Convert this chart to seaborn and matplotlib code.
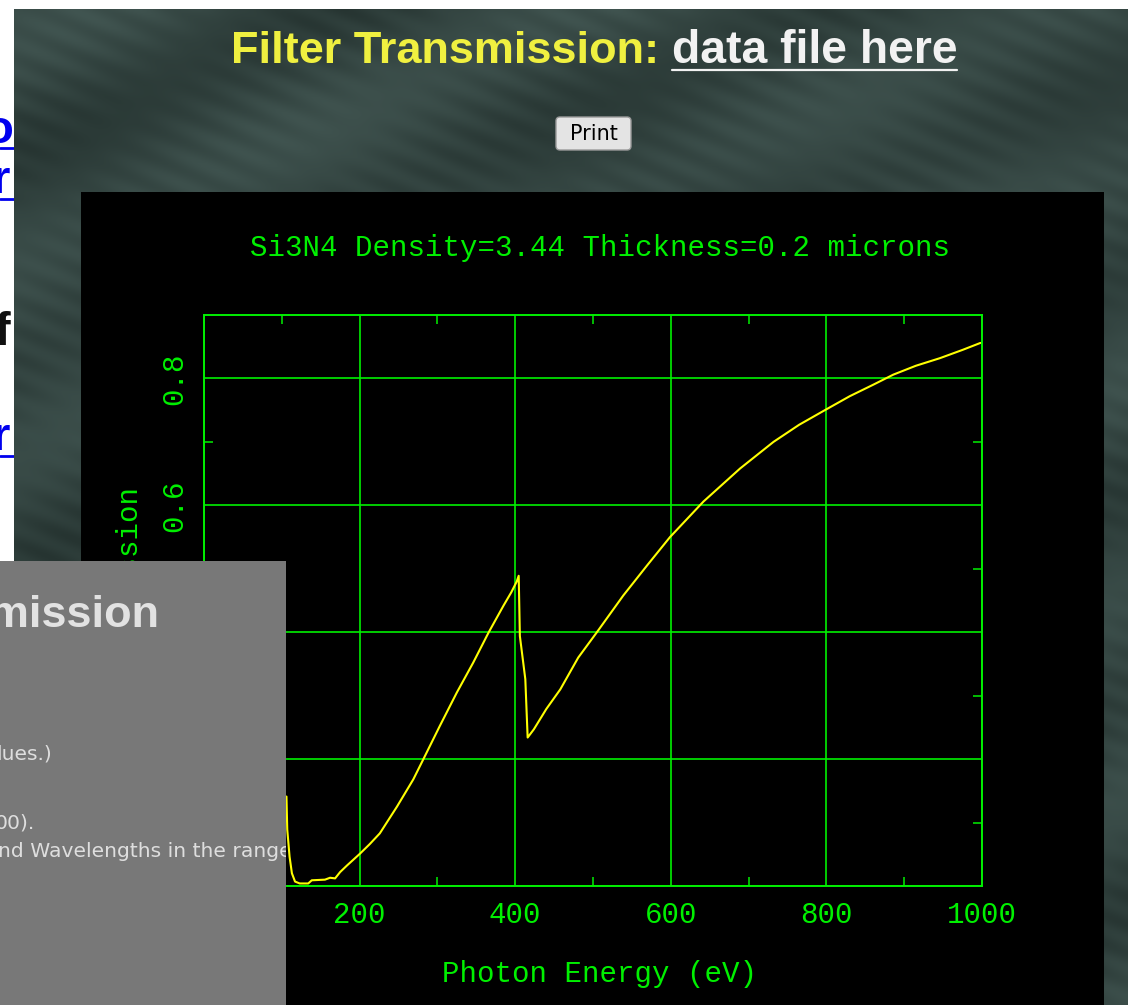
import numpy as np
import pandas as pd
import matplotlib
matplotlib.use("Agg")
import matplotlib.pyplot as plt
import seaborn as sns
from matplotlib.patches import Rectangle, FancyBboxPatch
from matplotlib.ticker import FixedLocator

# ---------------- data ----------------
energy_ev = [106, 107, 110, 113, 117, 123, 134, 138.5, 155.5, 162, 168.5, 175,
             183.5, 200.5, 213, 226, 248, 269, 282, 303, 325, 346, 366, 385,
             395, 402, 404.5, 406, 413, 416, 424, 440, 458, 481, 505, 539, 570,
             599, 642, 689, 732, 765, 798, 830, 860, 886, 915, 946, 975, 998]
transmission = [0.141, 0.089, 0.046, 0.020, 0.007, 0.004, 0.004, 0.009, 0.010,
                0.013, 0.012, 0.022, 0.032, 0.051, 0.066, 0.083, 0.125, 0.168,
                0.200, 0.252, 0.305, 0.352, 0.400, 0.442, 0.463, 0.480, 0.489,
                0.394, 0.326, 0.234, 0.247, 0.279, 0.310, 0.360, 0.400, 0.458,
                0.506, 0.550, 0.606, 0.658, 0.700, 0.727, 0.750, 0.772, 0.790,
                0.806, 0.820, 0.832, 0.845, 0.856]
x_ticks = [0, 200, 400, 600, 800, 1000]
x_tick_labels = ["0", "200", "400", "600", "800", "1000"]
x_minor = [100, 300, 500, 700, 900]
y_ticks = [0.0, 0.2, 0.4, 0.6, 0.8]
y_tick_labels = ["0.0", "0.2", "0.4", "0.6", "0.8"]
y_minor = [0.1, 0.3, 0.5, 0.7]
plot_title = "Si3N4 Density=3.44 Thickness=0.2 microns"
x_label = "Photon Energy (eV)"
y_label = "Transmission"
page_title_a = "Filter Transmission:"
page_title_b = "data file here"
button_text = "Print"
overlay_heading = "Filter Transmission"
overlay_lines = ["lues.)", "00).", "nd Wavelengths in the range of"]

# ---------------- figure ----------------
W, H = 1128, 1005
sns.set_theme(style="dark")
plt.rcParams["font.family"] = ["Liberation Mono", "DejaVu Sans"]

GREEN = "#00f000"
YELLOW = "#ffff00"

fig = plt.figure(figsize=(W / 100, H / 100), dpi=100)
fig.patch.set_facecolor("white")

# page layer in pixel coordinates
page = fig.add_axes([0, 0, 1, 1])
page.set_xlim(0, W)
page.set_ylim(H, 0)
page.axis("off")
page.set_zorder(0)

# left link fragments of the underlying page (behind the dark panel)
frag_font = dict(family="Liberation Sans", weight="bold", fontsize=34)
page.text(-16, 143, "o", color="#0000ee", va="baseline", zorder=1, **frag_font)
page.plot([0, 14], [148, 148], color="#0000ee", lw=2, zorder=1)
page.text(-8, 193, "r", color="#0000ee", va="baseline", zorder=1, **frag_font)
page.plot([0, 14], [199, 199], color="#0000ee", lw=2, zorder=1)
page.text(-6, 345, "f", color="#111111", va="baseline", zorder=1, **frag_font)
page.text(-8, 450, "r", color="#0000ee", va="baseline", zorder=1, **frag_font)
page.plot([0, 14], [456, 456], color="#0000ee", lw=2, zorder=1)

# dark textured panel (decorative background, smooth streak pattern)
gx, gy = np.meshgrid(np.arange(14, W, 3.0), np.arange(9, H, 3.0))
tex = (0.45 * np.sin(0.030 * (gx * 0.45 + gy)) +
       0.30 * np.sin(0.011 * gx + 0.9) * np.cos(0.017 * gy + 0.4) +
       0.25 * np.sin(0.22 * (gy - 0.42 * gx)) * np.sin(0.013 * (gx + gy)))
tex = (tex - tex.min()) / (tex.max() - tex.min())
c0 = np.array([38, 52, 49]) / 255.0
c1 = np.array([66, 86, 82]) / 255.0
rgb = c0[None, None, :] + tex[..., None] * (c1 - c0)[None, None, :]
page.imshow(rgb, extent=(14, W, H, 9), interpolation="bilinear", zorder=2, aspect="auto")
page.set_xlim(0, W)
page.set_ylim(H, 0)

# page heading
title_font = dict(family="Liberation Sans", weight="bold", fontsize=32.5)
page.text(231, 63, page_title_a, color="#f0f040", ha="left", va="baseline", zorder=3, **title_font)
page.text(672, 63, page_title_b, color="#f2f2f2", ha="left", va="baseline", zorder=3,
          family="Liberation Sans", weight="bold", fontsize=33.3)
page.plot([672, 957], [69.5, 69.5], color="#f2f2f2", lw=1.6, zorder=3)

# print button
page.add_patch(FancyBboxPatch((556, 117), 75, 33, boxstyle="round,pad=0,rounding_size=4",
                              facecolor="#e4e4e4", edgecolor="#9a9a9a", lw=1, zorder=3))
page.text(593.5, 134, button_text, color="black", ha="center", va="center",
          family="DejaVu Sans", fontsize=15, zorder=4)

# black plot panel
page.add_patch(Rectangle((81, 192), 1104 - 81, H - 192, facecolor="black", edgecolor="none", zorder=3))

# ---------------- the chart ----------------
ax = fig.add_axes([204 / W, (H - 886) / H, 778 / W, 571 / H])
ax.set_zorder(5)
ax.set_facecolor("black")

df = pd.DataFrame({"energy": energy_ev, "transmission": transmission})
sns.lineplot(data=df, x="energy", y="transmission", ax=ax, color=YELLOW,
             linewidth=1.5, estimator=None, sort=False, legend=False)

ax.set_xlim(0, 1000)
ax.set_ylim(0, 0.9)
ax.set_xticks(x_ticks)
ax.set_xticklabels(x_tick_labels)
ax.set_yticks(y_ticks)
ax.set_yticklabels(y_tick_labels, rotation=90, va="center", ha="right")
ax.xaxis.set_minor_locator(FixedLocator(x_minor))
ax.yaxis.set_minor_locator(FixedLocator(y_minor))

ax.set_axisbelow(True)
ax.grid(True, which="major", color=GREEN, lw=1.2)
ax.grid(False, which="minor")
for s in ax.spines.values():
    s.set_visible(True)
    s.set_color(GREEN)
    s.set_linewidth(1.4)

FS = 21
ax.tick_params(which="major", length=0, pad=11, labelsize=FS, labelcolor=GREEN)
ax.tick_params(which="minor", direction="in", length=6.5, width=1.1, color=GREEN,
               bottom=True, top=True, left=True, right=True)

ax.set_xlabel(x_label, color=GREEN, fontsize=FS)
ax.set_ylabel(y_label, color=GREEN, fontsize=FS)
ax.xaxis.set_label_coords((599 - 204) / 778, (886 - 960) / 571)
ax.yaxis.set_label_coords((143 - 204) / 778, (886 - 590) / 571)

ax.text((600 - 204) / 778, (886 - 256) / 571, plot_title, transform=ax.transAxes,
        ha="center", va="baseline", color=GREEN, fontsize=FS)

# ---------------- gray overlay panel ----------------
ov = fig.add_axes([0, 0, 286 / W, (H - 561) / H])
ov.set_zorder(10)
ov.set_facecolor("#787878")
ov.set_xlim(0, 286)
ov.set_ylim(H, 561)
ov.set_xticks([])
ov.set_yticks([])
for s in ov.spines.values():
    s.set_visible(False)

ov.text(159, 627, overlay_heading, ha="right", va="baseline", color="#e2e2e2",
        family="Liberation Sans", weight="bold", fontsize=32.5, clip_on=True)
small = dict(family="DejaVu Sans", fontsize=14.6, color="#dedede", va="baseline", clip_on=True)
ov.text(52, 759, overlay_lines[0], ha="right", **small)
ov.text(35, 828, overlay_lines[1], ha="right", **small)
ov.text(-2, 857, overlay_lines[2], ha="left", **small)

fig.savefig("out.png", dpi=100, facecolor=fig.get_facecolor())
